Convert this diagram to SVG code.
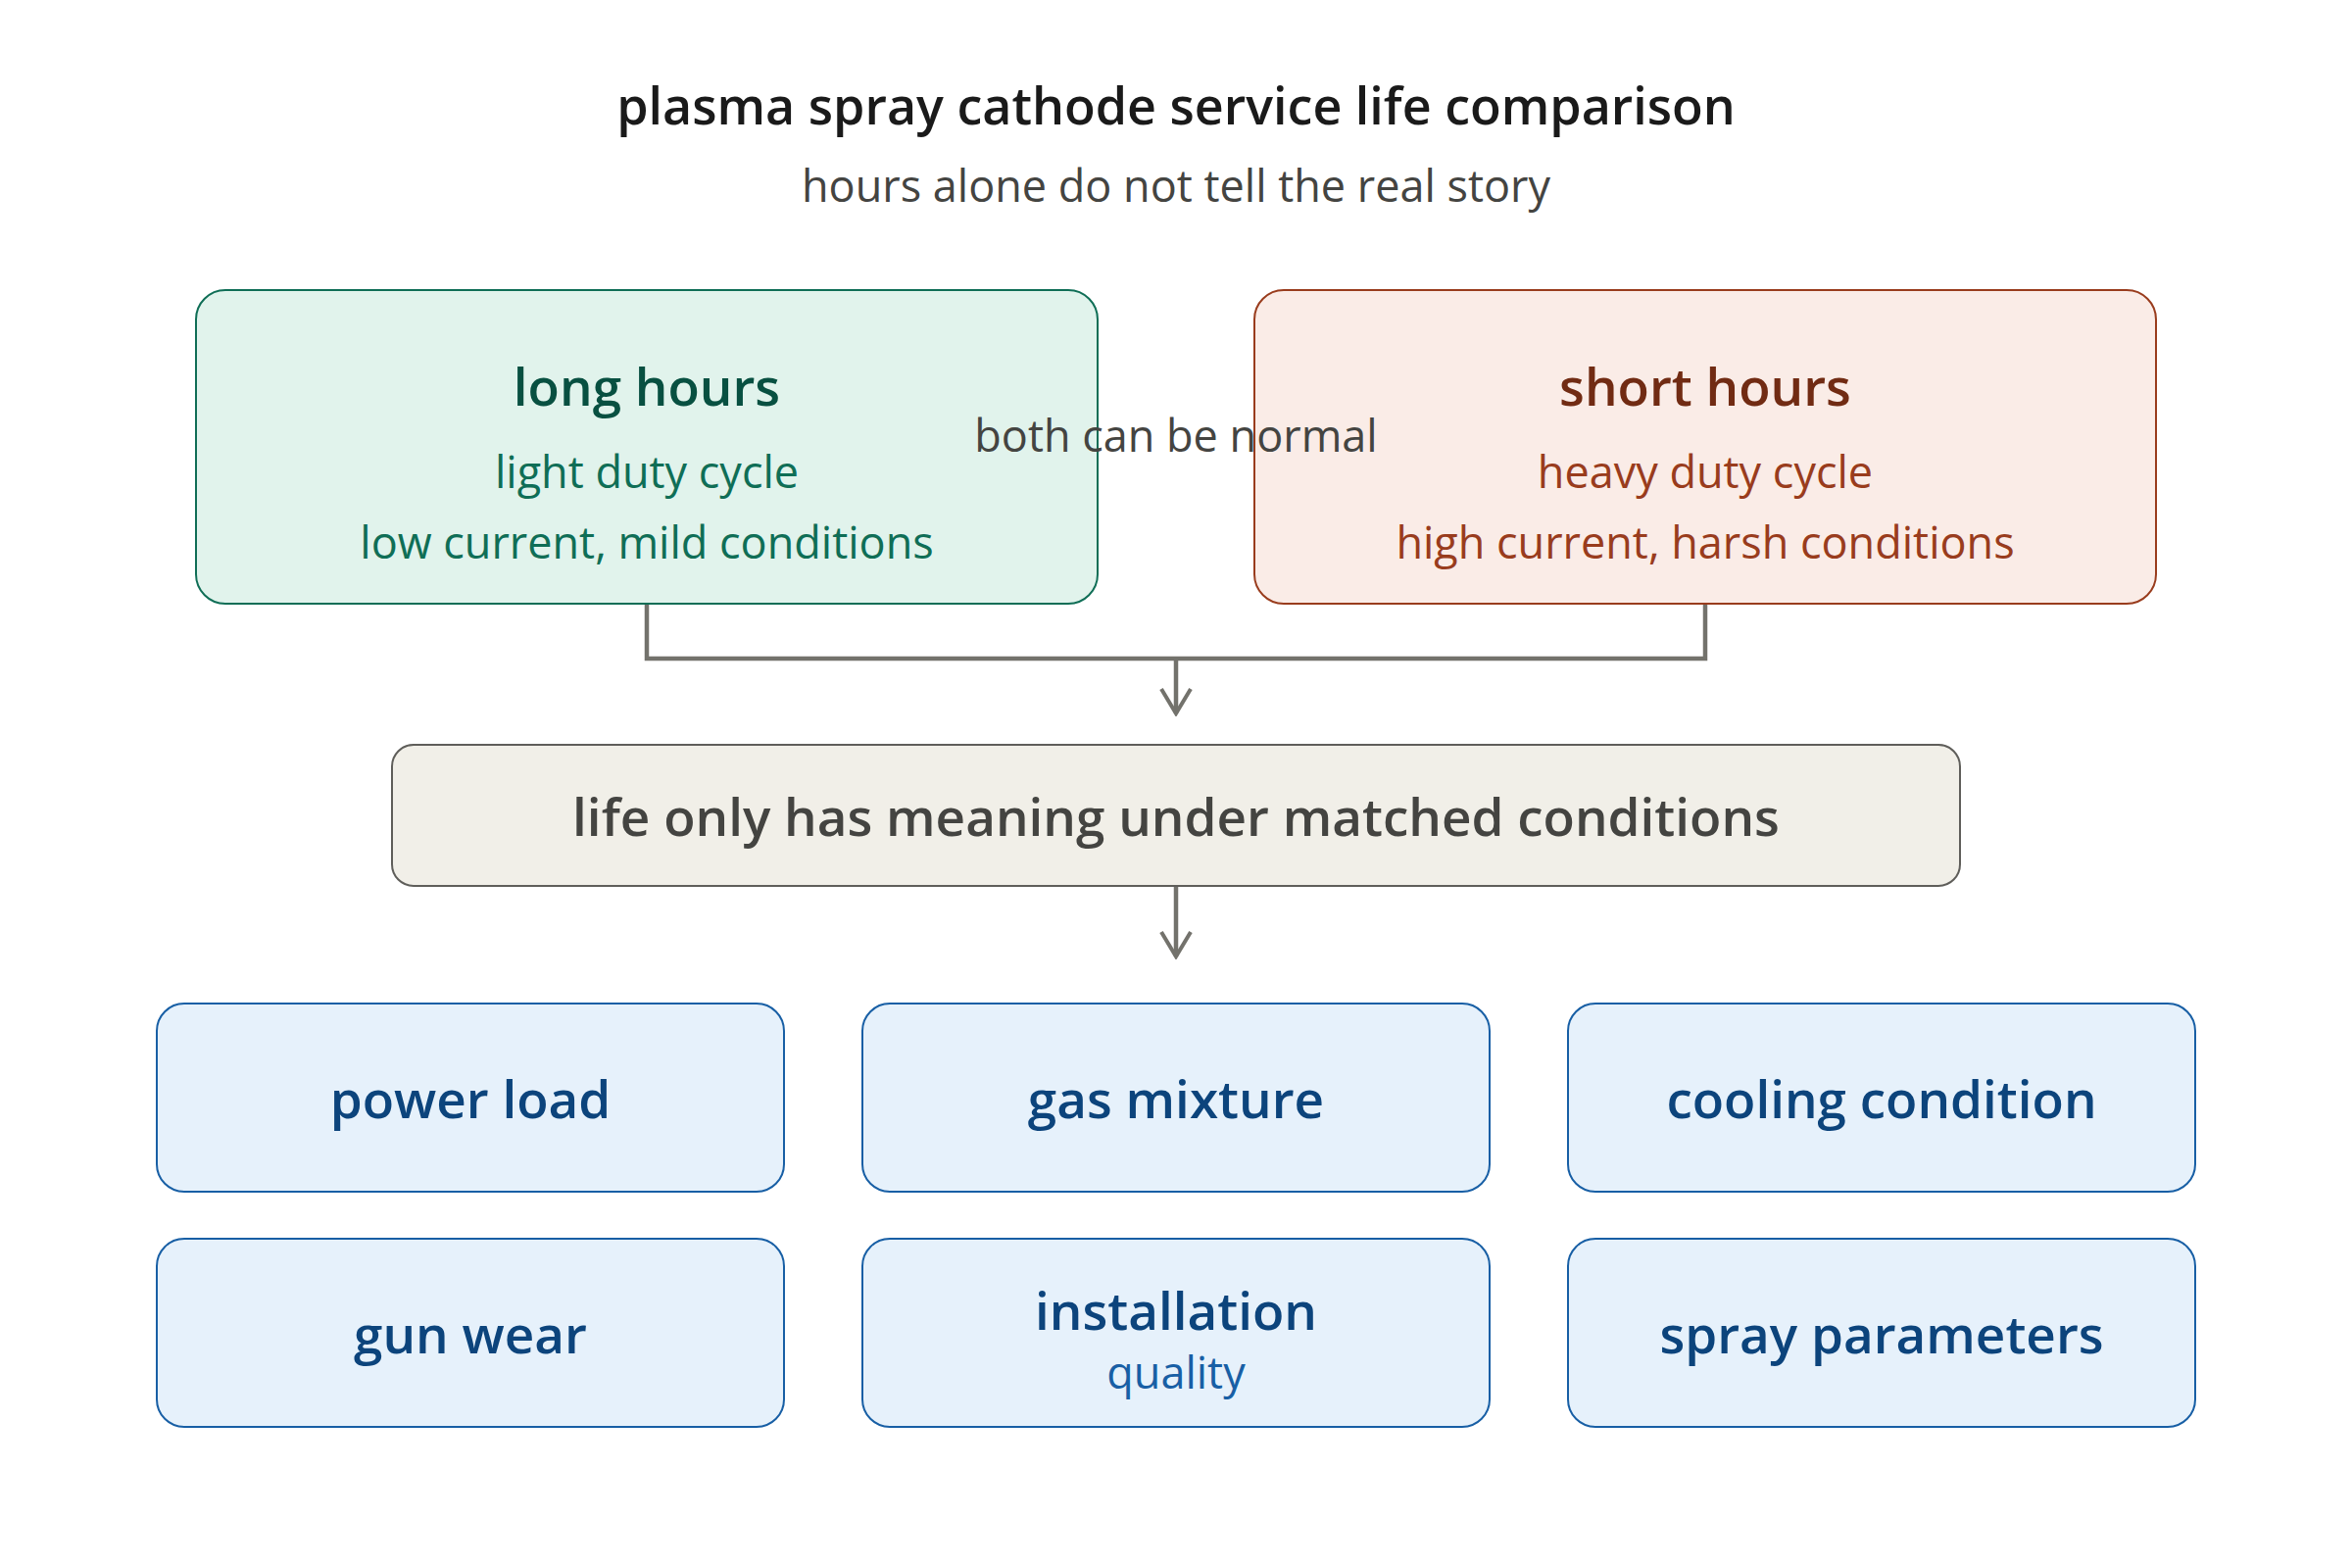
<svg xmlns="http://www.w3.org/2000/svg" width="2400" height="1600" viewBox="0 0 2400 1600">
<defs>
<style>
text{font-family:"Open Sans","Noto Sans","Liberation Sans",sans-serif;text-anchor:middle}
.title{font-size:52px;font-weight:600;fill:#1a1a1a}
.sub{font-size:45px;fill:#444441}
.nt{font-size:53px;font-weight:600}
.ns{font-size:45px}
.g rect{fill:#E1F3EC;stroke:#0F6E56;stroke-width:2}
.r rect{fill:#FAECE7;stroke:#993C1D;stroke-width:2}
.m rect{fill:#F1EFE8;stroke:#5F5E5A;stroke-width:2}
.b rect{fill:#E6F1FB;stroke:#185FA5;stroke-width:2}
.conn{fill:none;stroke:#73726c;stroke-width:4.5}
</style>
<marker id="arr" viewBox="0 0 30 36" refX="27" refY="18" markerWidth="30" markerHeight="36" markerUnits="userSpaceOnUse" orient="auto">
<path d="M2 3 L27 18 L2 33" fill="none" stroke="#73726c" stroke-width="4"/>
</marker>
</defs>
<rect width="2400" height="1600" fill="#ffffff"/>
<text class="title" x="1200" y="127">plasma spray cathode service life comparison</text>
<text class="sub" x="1200" y="206">hours alone do not tell the real story</text>

<g id="connectors">
<path class="conn" d="M660 616 V672 H1740 V616"/>
<path class="conn" d="M1200 672 V728" marker-end="url(#arr)"/>
<path class="conn" d="M1200 904 V976" marker-end="url(#arr)"/>
</g>

<g id="long-hours" class="g">
<rect x="200" y="296" width="920" height="320" rx="30"/>
<text class="nt" x="660" y="414" fill="#085041">long hours</text>
<text class="ns" x="660" y="498" fill="#0F6E56">light duty cycle</text>
<text class="ns" x="660" y="570" fill="#0F6E56">low current, mild conditions</text>
</g>
<g id="short-hours" class="r">
<rect x="1280" y="296" width="920" height="320" rx="30"/>
<text class="nt" x="1740" y="414" fill="#712B13">short hours</text>
<text class="ns" x="1740" y="498" fill="#993C1D">heavy duty cycle</text>
<text class="ns" x="1740" y="570" fill="#993C1D">high current, harsh conditions</text>
</g>
<text id="both-label" class="ns" x="1200" y="461" fill="#444441">both can be normal</text>

<g id="matched" class="m">
<rect x="400" y="760" width="1600" height="144" rx="22"/>
<text class="nt" x="1200" y="853" fill="#444441">life only has meaning under matched conditions</text>
</g>

<g id="power-load" class="b">
<rect x="160" y="1024" width="640" height="192" rx="28"/>
<text class="nt" x="480" y="1141" fill="#0C447C">power load</text>
</g>
<g id="gas-mixture" class="b">
<rect x="880" y="1024" width="640" height="192" rx="28"/>
<text class="nt" x="1200" y="1141" fill="#0C447C">gas mixture</text>
</g>
<g id="cooling-condition" class="b">
<rect x="1600" y="1024" width="640" height="192" rx="28"/>
<text class="nt" x="1920" y="1141" fill="#0C447C">cooling condition</text>
</g>
<g id="gun-wear" class="b">
<rect x="160" y="1264" width="640" height="192" rx="28"/>
<text class="nt" x="480" y="1381" fill="#0C447C">gun wear</text>
</g>
<g id="installation" class="b">
<rect x="880" y="1264" width="640" height="192" rx="28"/>
<text class="nt" x="1200" y="1357" fill="#0C447C">installation</text>
<text class="ns" x="1200" y="1417" fill="#185FA5">quality</text>
</g>
<g id="spray-parameters" class="b">
<rect x="1600" y="1264" width="640" height="192" rx="28"/>
<text class="nt" x="1920" y="1381" fill="#0C447C">spray parameters</text>
</g>
</svg>
